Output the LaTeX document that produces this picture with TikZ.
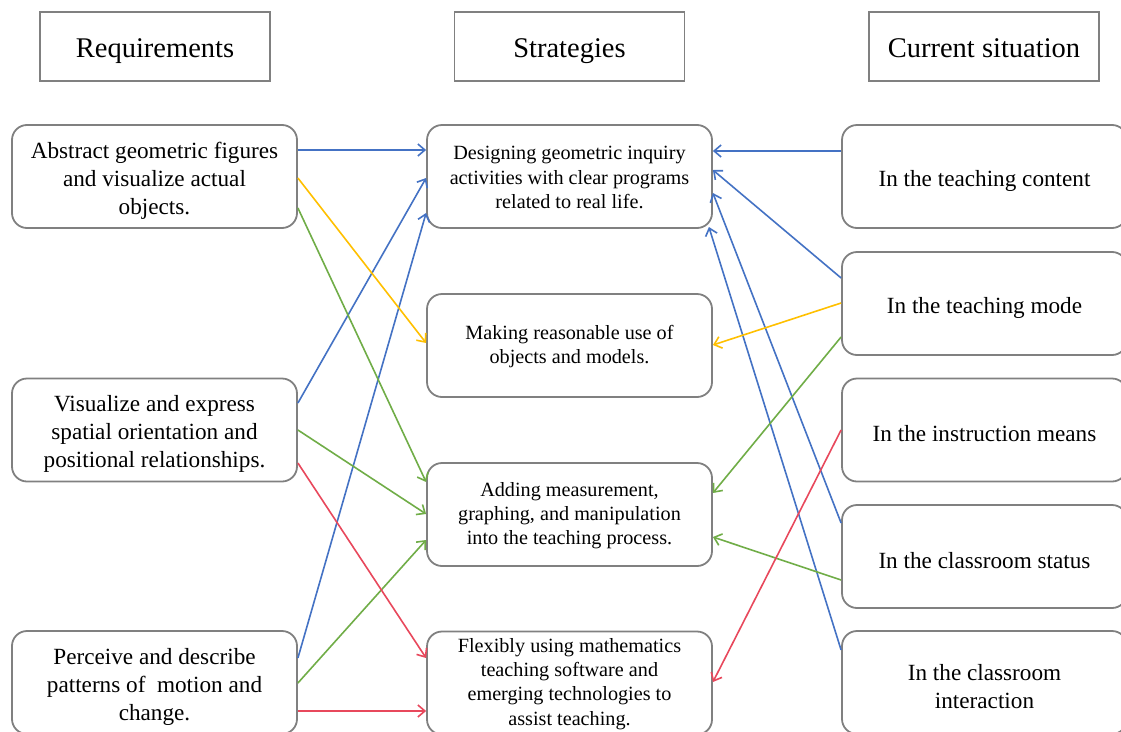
\documentclass[tikz,border=0pt]{standalone}
\usepackage{fontspec}
\setmainfont{Liberation Serif}
\usetikzlibrary{arrows.meta}
\definecolor{cblue}{HTML}{4472C4}
\definecolor{cyel}{HTML}{FFC000}
\definecolor{cgreen}{HTML}{70AD47}
\definecolor{cred}{HTML}{E8485C}
\definecolor{cgray}{HTML}{808080}
\newcommand\lrarrow[5]{\draw[arr,#1] (#2.east |- 0,#3) -- (#4.west |- 0,#5);}
\newcommand\rlarrow[5]{\draw[arr,#1] (#2.west |- 0,#3) -- (#4.east |- 0,#5);}
\begin{document}
\begin{tikzpicture}[x=1pt,y=-1pt,
 hdr/.style={draw=cgray,line width=1.6pt,minimum width=230pt,minimum height=69pt,inner sep=0pt,text height=25pt,text depth=4pt,font=\fontsize{28.5}{32}\selectfont},
 box/.style={draw=cgray,line width=1.8pt,rounded corners=15pt,minimum width=285pt,minimum height=103pt,inner sep=0pt},
 rbox/.style={box,label={[align=center,inner sep=0pt,font=\fontsize{23.2}{28}\selectfont,yshift=-4pt]center:{#1}}},
 mbox/.style={box,label={[align=center,inner sep=0pt,font=\fontsize{20.2}{24.3}\selectfont,yshift=-1pt]center:{#1}}},
 arr/.style={line width=1.6pt,-{Straight Barb[length=7pt,width=12pt]}}
]
\useasboundingbox (0,0) rectangle (1121,731);
\fill[white] (0,0) rectangle (1121,731);
% headers
\node[hdr] (H1) at (155,46.5) {Requirements};
\node[hdr] (H2) at (569.5,46.5) {Strategies};
\node[hdr] (H3) at (984,46.5) {Current situation};
% left
\node[rbox={Abstract geometric figures\\and visualize actual\\objects.}] (L1) at (154.5,176.5) {};
\node[rbox={Visualize and express\\spatial orientation and\\positional relationships.}] (L2) at (154.5,430) {};
\node[rbox={Perceive and describe\\patterns of\ \ motion and\\change.}] (L3) at (154.5,682.5) {};
% middle
\node[mbox={Designing geometric inquiry\\activities with clear programs\\related to real life.}] (M1) at (569.5,176.5) {};
\node[mbox={Making reasonable use of\\objects and models.}] (M2) at (569.5,345.5) {};
\node[mbox={Adding measurement,\\graphing, and manipulation\\into the teaching process.}] (M3) at (569.5,514.5) {};
\node[mbox={Flexibly using mathematics\\teaching software and\\emerging technologies to\\assist teaching.}] (M4) at (569.5,683) {};
% right
\node[rbox={In the teaching content}] (R1) at (984.5,176.5) {};
\node[rbox={In the teaching mode}] (R2) at (984.5,303.5) {};
\node[rbox={In the instruction means}] (R3) at (984.5,430) {};
\node[rbox={In the classroom status}] (R4) at (984.5,556.5) {};
\node[rbox={In the classroom\\interaction}] (R5) at (984.5,682.5) {};
% blue
\lrarrow{cblue}{L1}{150}{M1}{150}
\lrarrow{cblue}{L2}{403}{M1}{178}
\lrarrow{cblue}{L3}{658}{M1}{213}
\rlarrow{cblue}{R1}{151}{M1}{151}
\rlarrow{cblue}{R2}{278}{M1}{170}
\rlarrow{cblue}{R4}{523}{M1}{193}
\draw[arr,cblue] (R5.west |- 0,650) -- ([xshift=-4pt]M1.east |- 0,227);
% yellow
\lrarrow{cyel}{L1}{178}{M2}{343}
\rlarrow{cyel}{R2}{303}{M2}{345}
% green
\lrarrow{cgreen}{L1}{208}{M3}{482}
\lrarrow{cgreen}{L2}{430}{M3}{514}
\lrarrow{cgreen}{L3}{683}{M3}{540}
\rlarrow{cgreen}{R2}{337}{M3}{493}
\rlarrow{cgreen}{R4}{580}{M3}{537}
% red
\lrarrow{cred}{L2}{463}{M4}{658}
\lrarrow{cred}{L3}{711}{M4}{711}
\rlarrow{cred}{R3}{430}{M4}{682}
\end{tikzpicture}
\end{document}
